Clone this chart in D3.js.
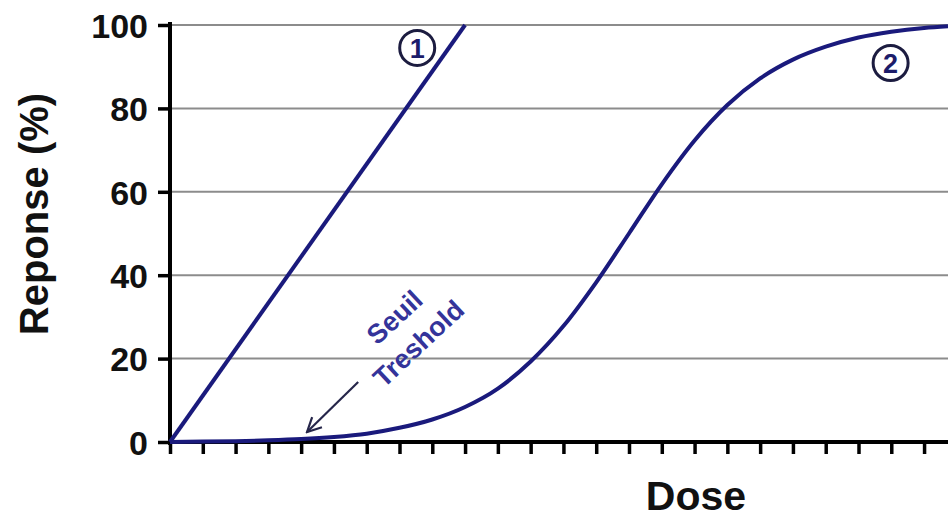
<!DOCTYPE html>
<html>
<head>
<meta charset="utf-8">
<script src="https://cdn.jsdelivr.net/npm/d3@7"></script>
<style>
  html, body { margin: 0; padding: 0; background: #fff; }
  svg { display: block; }
  text { font-family: "Liberation Sans", Arial, sans-serif; font-weight: bold; }
</style>
</head>
<body>
<svg id="chart" width="948" height="520"></svg>
<script>
// ---- data ----
const yTicks = [0, 20, 40, 60, 80, 100];
const xTicks = [0,1,2,3,4,5,6,7,8,9,10,11,12,13,14,15,16,17,18,19,20,21,22,23];
const line1Dose = [0, 9];
const line1Resp = [0, 100];
const curve2Dose = [0, 1, 2, 3, 4, 5, 6, 7, 8, 9, 10, 11, 12, 13, 14, 15, 16, 17, 18, 19, 20, 21, 22, 23, 23.73];
const curve2Resp = [0, 0.1, 0.2, 0.4, 0.7, 1.2, 2.0, 3.4, 5.4, 8.4, 12.8, 19.3, 27.8, 38.3, 50, 61.8, 72.3, 80.8, 87.2, 91.7, 94.8, 97.0, 98.4, 99.3, 99.7];
const labelNames = ["1", "2"];
const labelDose = [7.54, 21.98];
const labelResp = [94.5, 90.9];
const thresholdText = ["Seuil", "Treshold"];
const thresholdDose = [6.84, 7.57];
const thresholdResp = [30, 23.7];
const arrowDose = [5.74, 4.18];
const arrowResp = [14.4, 2.4];

// ---- layout ----
const svg = d3.select("#chart");
const x = d3.scaleLinear().domain([0, 23.73]).range([170, 948]);
const y = d3.scaleLinear().domain([0, 100]).range([442, 25]);
const navy = "#1a1a7c";

// gridlines
svg.append("g").selectAll("line").data(yTicks.filter(d => d > 0)).join("line")
  .attr("x1", x(0)).attr("x2", x(23.73))
  .attr("y1", d => y(d)).attr("y2", d => y(d))
  .attr("stroke", "#8c8c8c").attr("stroke-width", 2);

// y axis
const yAxis = d3.axisLeft(y).tickValues(yTicks).tickSize(12).tickPadding(10).tickSizeOuter(0);
const gy = svg.append("g").attr("transform", `translate(${x(0)},0)`).call(yAxis);
gy.select(".domain").attr("stroke", "#000").attr("stroke-width", 4).attr("d", `M0,${y(100)-3}V${y(0)+3}`);
gy.selectAll(".tick line").attr("stroke", "#000").attr("stroke-width", 3.5);
gy.selectAll(".tick text").attr("fill", "#111").style("font-size", "34px").style("font-family", "Liberation Sans, Arial, sans-serif").style("font-weight", "bold").attr("dy", "0.36em");

// x axis
const xAxis = d3.axisBottom(x).tickValues(xTicks).tickSize(12).tickFormat("").tickSizeOuter(0);
const gx = svg.append("g").attr("transform", `translate(0,${y(0)})`).call(xAxis);
gx.select(".domain").attr("stroke", "#000").attr("stroke-width", 4).attr("d", `M${x(0)-2},0H${x(23.73)}`);
gx.selectAll(".tick line").attr("stroke", "#000").attr("stroke-width", 3.5);

// axis titles
svg.append("text").attr("x", 696).attr("y", 510).attr("text-anchor", "middle")
  .style("font-size", "41px").attr("fill", "#111").text("Dose");
svg.append("text").attr("transform", "translate(48,214) rotate(-90)").attr("text-anchor", "middle")
  .style("font-size", "40px").attr("fill", "#111").text("Reponse (%)");

// lines
const lineGen = d3.line().x(d => x(d[0])).y(d => y(d[1]));
svg.append("path").datum(line1Dose.map((d, i) => [d, line1Resp[i]]))
  .attr("d", lineGen).attr("fill", "none").attr("stroke", navy).attr("stroke-width", 4);
svg.append("path").datum(curve2Dose.map((d, i) => [d, curve2Resp[i]]))
  .attr("d", lineGen.curve(d3.curveMonotoneX)).attr("fill", "none").attr("stroke", navy).attr("stroke-width", 4);

// circled labels
const lbl = svg.append("g").selectAll("g").data(labelNames).join("g")
  .attr("transform", (d, i) => `translate(${x(labelDose[i])},${y(labelResp[i])})`);
lbl.append("circle").attr("r", 17.5).attr("fill", "#fff").attr("stroke", "#1c1c40").attr("stroke-width", 3);
lbl.append("text").attr("text-anchor", "middle").attr("dy", "0.36em").style("font-size", "27px")
  .attr("fill", "#1c1c6a").text(d => d);

// threshold annotation
svg.append("g").selectAll("text").data(thresholdText).join("text")
  .attr("transform", (d, i) => `translate(${x(thresholdDose[i])},${y(thresholdResp[i])}) rotate(-43)`)
  .attr("text-anchor", "middle").attr("dy", "0.36em")
  .style("font-size", "27px").attr("fill", "#34349a").text(d => d);

const defs = svg.append("defs");
defs.append("marker").attr("id", "arrowhead").attr("viewBox", "0 0 20 20")
  .attr("refX", 18).attr("refY", 10).attr("markerWidth", 20).attr("markerHeight", 20)
  .attr("markerUnits", "userSpaceOnUse").attr("orient", "auto")
  .append("path").attr("d", "M4,3 L18,10 L4,17").attr("fill", "none").attr("stroke", "#26264a").attr("stroke-width", 2.2);
svg.append("line")
  .attr("x1", x(arrowDose[0])).attr("y1", y(arrowResp[0]))
  .attr("x2", x(arrowDose[1])).attr("y2", y(arrowResp[1]))
  .attr("stroke", "#26264a").attr("stroke-width", 2.2).attr("marker-end", "url(#arrowhead)");
</script>
</body>
</html>
